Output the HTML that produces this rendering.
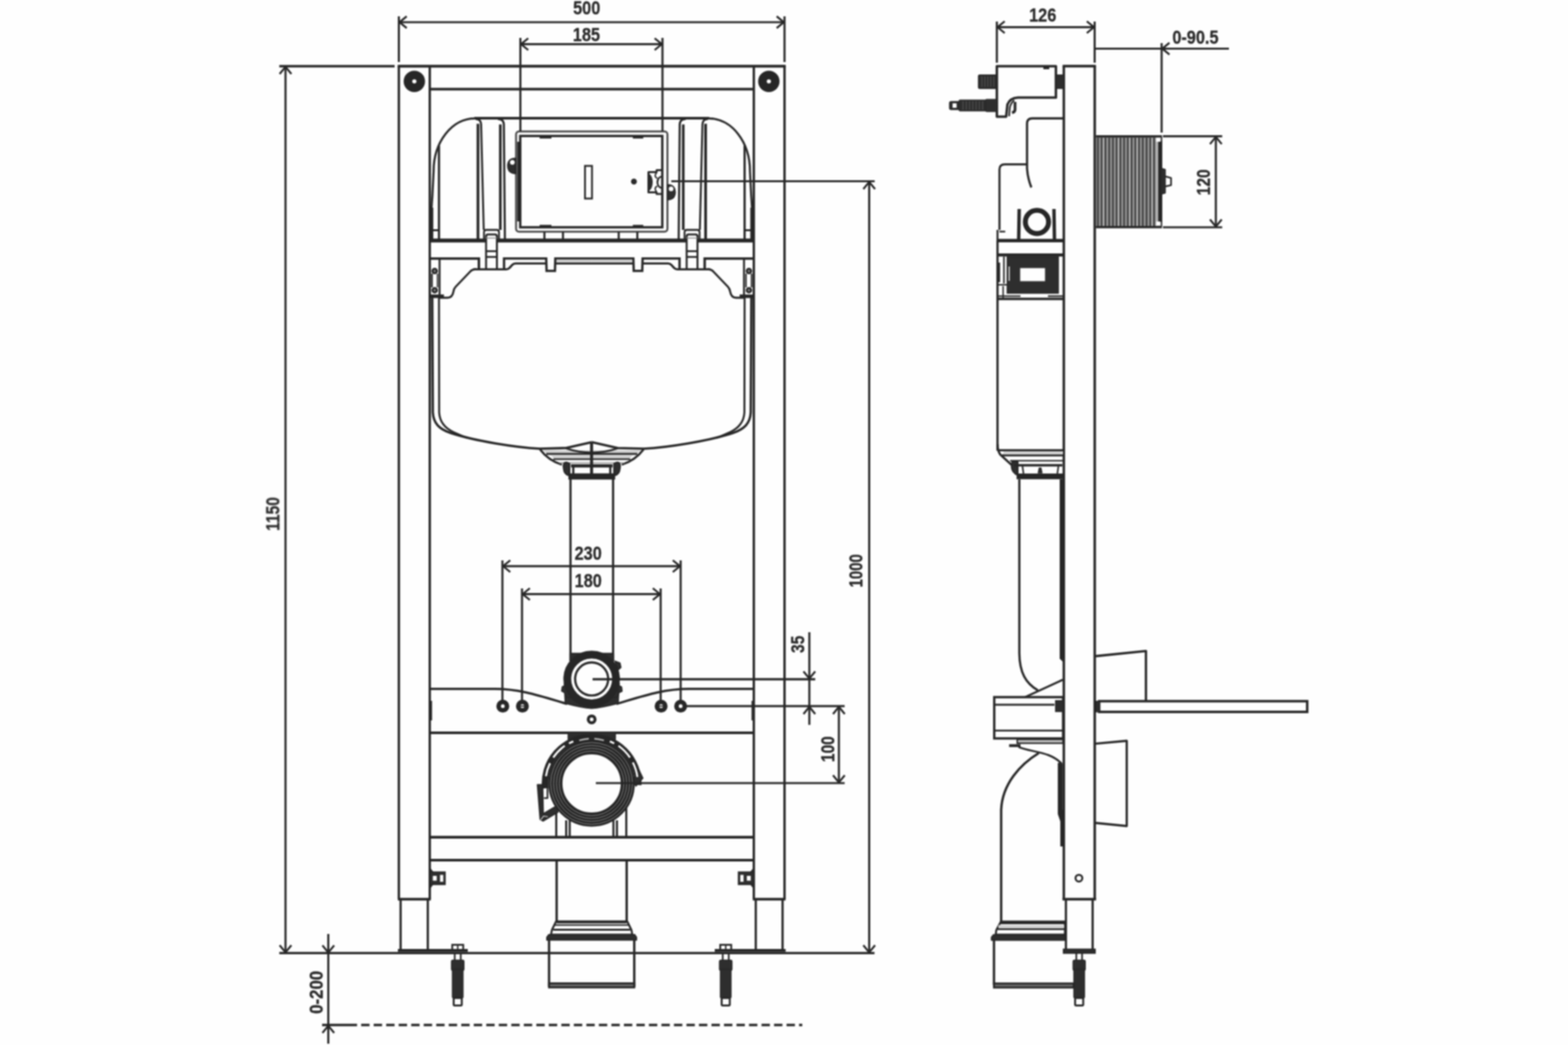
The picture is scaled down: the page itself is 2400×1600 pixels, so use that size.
<!DOCTYPE html>
<html lang="en">
<head>
<meta charset="utf-8">
<title>Installation frame dimensions</title>
<style>
html,body{margin:0;padding:0;background:#fefefe;}
body{width:2400px;height:1600px;overflow:hidden;}
svg{display:block;}
svg *{vector-effect:none;}
.d rect,.d polygon{stroke-linejoin:miter;}
.d{fill:none;stroke:#262626;stroke-width:3.6;stroke-linecap:butt;stroke-linejoin:round;}
.d text{font-family:"Liberation Sans",sans-serif;font-size:28.6px;font-weight:700;fill:#2b2b2b;stroke:#2b2b2b;stroke-width:0.4px;stroke-linejoin:round;text-anchor:middle;}
</style>
</head>
<body>
<svg width="2400" height="1600" viewBox="0 0 2400 1600">
<rect x="0" y="0" width="2400" height="1600" fill="#fefefe"/>
<defs><filter id="soft" x="0" y="0" width="2400" height="1600" filterUnits="userSpaceOnUse" color-interpolation-filters="sRGB"><feGaussianBlur stdDeviation="0.85"/></filter></defs>
<g class="d" filter="url(#soft)">
<!-- front view: frame -->
<line x1="608.7" y1="101.3" x2="1202.6" y2="101.3" stroke-width="4.2"/>
<line x1="610.5" y1="101.3" x2="610.5" y2="1376.8"/>
<line x1="657.8" y1="101.3" x2="657.8" y2="1376.8"/>
<line x1="1153.8" y1="101.3" x2="1153.8" y2="1376.8"/>
<line x1="1200.8" y1="101.3" x2="1200.8" y2="1376.8"/>
<line x1="609.0" y1="1376.8" x2="659.3" y2="1376.8" stroke-width="4.0"/>
<line x1="1152.3" y1="1376.8" x2="1202.3" y2="1376.8" stroke-width="4.0"/>
<line x1="613.2" y1="1376.8" x2="613.2" y2="1455" stroke-width="3.4"/>
<line x1="654.8" y1="1376.8" x2="654.8" y2="1455" stroke-width="3.4"/>
<line x1="1156.8" y1="1376.8" x2="1156.8" y2="1455" stroke-width="3.4"/>
<line x1="1197.8" y1="1376.8" x2="1197.8" y2="1455" stroke-width="3.4"/>
<line x1="609" y1="1455.2" x2="716" y2="1455.2" stroke-width="4.5"/>
<line x1="1094" y1="1455.2" x2="1202.5" y2="1455.2" stroke-width="4.5"/>
<line x1="657.8" y1="136.5" x2="1153.8" y2="136.5" stroke-width="3.8"/>
<circle cx="634.2" cy="124.6" r="9.8" stroke-width="13.2" fill="#fefefe"/>
<circle cx="1176.8" cy="124.6" r="9.8" stroke-width="13.2" fill="#fefefe"/>
<line x1="657.8" y1="1122" x2="1153.8" y2="1122" stroke-width="3.8"/>
<line x1="657.8" y1="1281.9" x2="1153.8" y2="1281.9" stroke-width="4.2"/>
<line x1="657.8" y1="1317" x2="1153.8" y2="1317" stroke-width="3.8"/>
<path d="M657.8,1054.8 L757,1054.8 C797,1054.8 828,1066 868,1077.8 M1153.8,1054.8 L1054.6,1054.8 C1014.6,1054.8 983.6,1066 943.6,1077.8" stroke-width="3.4"/>
<line x1="660" y1="1073" x2="660" y2="1103" stroke-width="2.6"/>
<line x1="1151.6" y1="1073" x2="1151.6" y2="1103" stroke-width="2.6"/>
<!-- front view: cistern upper part -->
<line x1="726" y1="181" x2="1085.6" y2="181" stroke-width="3.8"/>
<path d="M726.5,181.3 A62.8,80.5 0 0 0 663.7,262 L661.8,300 L660,326" stroke-width="3.2"/>
<line x1="671.9" y1="223" x2="671.9" y2="366" stroke-width="3.4"/>
<line x1="660.6" y1="318" x2="660.6" y2="368" stroke-width="5.2"/>
<line x1="662" y1="352.5" x2="672" y2="352.5" stroke-width="3.0"/>
<line x1="731.6" y1="189.5" x2="731.6" y2="366" stroke-width="4.2"/>
<path d="M728,182.2 Q735.8,182.2 736.4,190 L740.4,352" stroke-width="3.0"/>
<line x1="765.8" y1="190.5" x2="765.8" y2="352" stroke-width="4.0"/>
<path d="M762,182.2 Q770.4,182.2 771.2,190 L772.8,366" stroke-width="3.2"/>
<path d="M1085.1,181.3 A62.8,80.5 0 0 1 1147.9,262 L1149.8,300 L1151.6,326" stroke-width="3.2"/>
<line x1="1139.7" y1="223" x2="1139.7" y2="366" stroke-width="3.4"/>
<line x1="1151.0" y1="318" x2="1151.0" y2="368" stroke-width="5.2"/>
<line x1="1149.6" y1="352.5" x2="1139.6" y2="352.5" stroke-width="3.0"/>
<line x1="1080.0" y1="189.5" x2="1080.0" y2="366" stroke-width="4.2"/>
<path d="M1083.6,182.2 Q1075.8,182.2 1075.2,190 L1071.2,352" stroke-width="3.0"/>
<line x1="1045.8" y1="190.5" x2="1045.8" y2="352" stroke-width="4.0"/>
<path d="M1049.6,182.2 Q1041.2,182.2 1040.4,190 L1038.8,366" stroke-width="3.2"/>
<rect x="789.9" y="201.2" width="231.7" height="153.6" stroke-width="3.0" rx="4.5" stroke="#4a4a4a"/>
<rect x="796.3" y="208.2" width="217.4" height="139.8" stroke-width="3.6"/>
<line x1="794.4" y1="217" x2="794.4" y2="339" stroke-width="5.6"/>
<line x1="826" y1="210.4" x2="844" y2="210.4" stroke-width="3.4"/>
<line x1="826" y1="346" x2="844" y2="346" stroke-width="3.4"/>
<line x1="968.6" y1="210.4" x2="984.6" y2="210.4" stroke-width="3.4"/>
<line x1="968.6" y1="346" x2="984.6" y2="346" stroke-width="3.4"/>
<line x1="833.3" y1="355" x2="833.3" y2="367" stroke-width="3.2"/>
<line x1="861.7" y1="355" x2="861.7" y2="367" stroke-width="3.2"/>
<line x1="947" y1="355" x2="947" y2="367" stroke-width="3.2"/>
<line x1="975.5" y1="355" x2="975.5" y2="367" stroke-width="3.2"/>
<path d="M789.5,242.5 C780,242 777,248 777.2,254 C777.3,261 781,265.5 789.5,265.8 Z" stroke-width="2.0" fill="#2e2e2e"/>
<circle cx="784.2" cy="248.6" r="3.6" stroke-width="0" fill="#fefefe" stroke="none"/>
<path d="M1022,283 C1031,282.5 1033.6,289 1033.5,294 C1033.4,301 1030,305.6 1022,305.8 Z" stroke-width="2.0" fill="#2e2e2e"/>
<circle cx="1027.2" cy="289.2" r="3.6" stroke-width="0" fill="#fefefe" stroke="none"/>
<rect x="895.4" y="254" width="10.7" height="50" stroke-width="2.8"/>
<circle cx="970.3" cy="278" r="3.2" stroke-width="2.6" fill="#2e2e2e"/>
<path d="M1013,260.5 L1005,260.5 L1005,263.5 L992.5,263.5 L992.5,294.5 L1005,294.5 L1005,297 L1013,297" stroke-width="3.0"/>
<path d="M993,266 C1000,272 1000,286 993,292 Z" stroke-width="1.5" fill="#2e2e2e"/>
<path d="M1013,270 C1004,272 1004,286 1013,288" stroke-width="2.8"/>
<path d="M1005,264 C1002,268 1002,271 1006,273 M1005,294 C1002,290 1002,287 1006,285" stroke-width="2.2"/>
<!-- front view: cistern mid bar -->
<line x1="658" y1="368.3" x2="1153.6" y2="368.3" stroke-width="6"/>
<rect x="744" y="361" width="16.6" height="50" stroke-width="0" fill="#fefefe" stroke="none"/>
<path d="M740.8,366 L740.8,355.5 Q740.8,352 744.3,352 L760.2,352 Q763.8,352 763.8,355.5 L763.8,366" stroke-width="2.8"/>
<path d="M744,412 L744,362 Q744,359 747,359 L757.6,359 Q760.6,359 760.6,362 L760.6,412" stroke-width="3.0"/>
<line x1="744" y1="364.5" x2="760.6" y2="364.5" stroke-width="1.6" stroke="#8a8a8a"/>
<line x1="744" y1="384.6" x2="760.6" y2="384.6" stroke-width="2.8"/>
<line x1="744" y1="393.4" x2="760.6" y2="393.4" stroke-width="2.8"/>
<rect x="1051.0" y="361" width="16.6" height="50" stroke-width="0" fill="#fefefe" stroke="none"/>
<path d="M1070.8,366 L1070.8,355.5 Q1070.8,352 1067.3,352 L1051.4,352 Q1047.8,352 1047.8,355.5 L1047.8,366" stroke-width="2.8"/>
<path d="M1067.6,412 L1067.6,362 Q1067.6,359 1064.6,359 L1054.0,359 Q1051.0,359 1051.0,362 L1051.0,412" stroke-width="3.0"/>
<line x1="1067.6" y1="364.5" x2="1051.0" y2="364.5" stroke-width="1.6" stroke="#8a8a8a"/>
<line x1="1067.6" y1="384.6" x2="1051.0" y2="384.6" stroke-width="2.8"/>
<line x1="1067.6" y1="393.4" x2="1051.0" y2="393.4" stroke-width="2.8"/>
<polyline points="658,395.8 733,395.8 733,412.4" stroke-width="3.8" stroke-linejoin="miter"/>
<polyline points="771.5,412.4 771.5,395.8 836.0,395.8 836.6,414.8 849.4,414.8 850.0,395.8 906,395.8" stroke-width="3.6" stroke-linejoin="miter"/>
<path d="M724,412.4 L775,412.4 Q778,412.4 780,410 L784,405.6 Q786,403.4 789,403.4 L835.0,403.4" stroke-width="3.4"/>
<line x1="851.0" y1="403.4" x2="906" y2="403.4" stroke-width="3.4"/>
<rect x="852.0" y="397.6" width="53.8" height="4.2" stroke-width="0" fill="#d0d0d0" stroke="none"/>
<path d="M729,412.2 Q723.5,412.2 720,415.5 L697.5,439 Q694.6,442 694,446.5 Q692.5,455.8 685,455.8 L673,455.8" stroke-width="3.2"/>
<line x1="672.8" y1="395.8" x2="672.8" y2="456" stroke-width="3.0"/>
<circle cx="665.3" cy="415" r="3.4" stroke-width="3.0" fill="#777"/>
<circle cx="665.3" cy="444.4" r="3.4" stroke-width="3.0" fill="#777"/>
<line x1="661.2" y1="419" x2="661.2" y2="440" stroke-width="2.4"/>
<line x1="669.6" y1="419" x2="669.6" y2="440" stroke-width="2.0"/>
<line x1="659" y1="453.6" x2="679.5" y2="453.6" stroke-width="5.5"/>
<polyline points="1153.6,395.8 1078.6,395.8 1078.6,412.4" stroke-width="3.8" stroke-linejoin="miter"/>
<polyline points="1040.1,412.4 1040.1,395.8 983.6,395.8 983.0,414.8 970.0,414.8 969.4,395.8 906,395.8" stroke-width="3.6" stroke-linejoin="miter"/>
<path d="M1087.6,412.4 L1036.6,412.4 Q1033.6,412.4 1031.6,410 L1027.6,405.6 Q1025.6,403.4 1022.6,403.4 L984.6,403.4" stroke-width="3.4"/>
<line x1="968.4" y1="403.4" x2="906" y2="403.4" stroke-width="3.4"/>
<rect x="905.8" y="397.6" width="61.6" height="4.2" stroke-width="0" fill="#d0d0d0" stroke="none"/>
<path d="M1082.6,412.2 Q1088.1,412.2 1091.6,415.5 L1114.1,439 Q1117.0,442 1117.6,446.5 Q1119.1,455.8 1126.6,455.8 L1138.6,455.8" stroke-width="3.2"/>
<line x1="1138.8" y1="395.8" x2="1138.8" y2="456" stroke-width="3.0"/>
<circle cx="1146.3" cy="415" r="3.4" stroke-width="3.0" fill="#777"/>
<circle cx="1146.3" cy="444.4" r="3.4" stroke-width="3.0" fill="#777"/>
<line x1="1150.4" y1="419" x2="1150.4" y2="440" stroke-width="2.4"/>
<line x1="1142.0" y1="419" x2="1142.0" y2="440" stroke-width="2.0"/>
<line x1="1152.6" y1="453.6" x2="1132.1" y2="453.6" stroke-width="5.5"/>
<!-- front view: cistern body -->
<path d="M661.6,456 L662.5,631.6 C663.5,648 672,657 690,663 C728,675.5 790,685 826,687 L866,686 L905.8,677" stroke-width="3.6"/>
<path d="M671.9,456 L672.2,631.6 C673,645 680,655 694,661.5 C702,665 708,668 715.3,670.2" stroke-width="3.0"/>
<path d="M1150.0,456 L1149.1,631.6 C1148.1,648 1139.6,657 1121.6,663 C1083.6,675.5 1021.6,685 985.6,687 L945.6,686 L905.8,677" stroke-width="3.6"/>
<path d="M1139.7,456 L1139.4,631.6 C1138.6,645 1131.6,655 1117.6,661.5 C1109.6,665 1103.6,668 1096.3,670.2" stroke-width="3.0"/>
<!-- front view: funnel under cistern -->
<path d="M826.5,688 C834,698 846,707 860,711.5" stroke-width="3.4"/>
<path d="M985.1,688 C977.6,698 965.6,707 951.6,711.5" stroke-width="3.4"/>
<path d="M831,689.5 L980.6,689.5 L975.6,693.5 L836,693.5 Z" stroke-width="0" fill="#cfcfcf" stroke="none"/>
<path d="M843,697.5 L968.6,697.5 L963.6,701.5 L848,701.5 Z" stroke-width="0" fill="#cfcfcf" stroke="none"/>
<path d="M866,686.4 Q905.8,699.6 945.6,686.4" stroke-width="3.0"/>
<line x1="836" y1="695" x2="975.6" y2="695" stroke-width="3.2"/>
<line x1="847" y1="703" x2="964.6" y2="703" stroke-width="2.6"/>
<line x1="856" y1="708.6" x2="955.6" y2="708.6" stroke-width="1.6" stroke="#9a9a9a"/>
<line x1="905.5" y1="677" x2="905.5" y2="728" stroke-width="4.6"/>
<path d="M868,708 C862.5,707 861.5,712 862.5,717 C863,723 865,727 870.5,728 L872,728 L872,710 Z" stroke-width="2.0" fill="#2e2e2e"/>
<line x1="877.5" y1="715" x2="877.5" y2="726" stroke-width="3.4"/>
<path d="M943.6,708 C949.1,707 950.1,712 949.1,717 C948.6,723 946.6,727 941.1,728 L939.6,728 L939.6,710 Z" stroke-width="2.0" fill="#2e2e2e"/>
<line x1="934.1" y1="715" x2="934.1" y2="726" stroke-width="3.4"/>
<line x1="874" y1="713.2" x2="937.6" y2="713.2" stroke-width="5"/>
<line x1="870" y1="729.6" x2="941.6" y2="729.6" stroke-width="9.5"/>
<!-- front view: flush pipe -->
<line x1="873.2" y1="733" x2="873.2" y2="1001" stroke-width="3.4"/>
<line x1="938.4" y1="733" x2="938.4" y2="1001" stroke-width="3.4"/>
<line x1="873.2" y1="1001" x2="938.4" y2="1001" stroke-width="3.0"/>
<!-- front view: flush pipe connector -->
<path d="M865,1077 C880,1081 893,1084 905.6,1084.8 C918,1084 931,1081 946.4,1077 L948,1046 L863.5,1046 Z" stroke-width="1.5" fill="#2e2e2e"/>
<path d="M872,1001 L939.6,1001 L939.6,1012 L872,1012 Z" stroke-width="1.2" fill="#2e2e2e"/>
<path d="M866,1049 L860.5,1051.5 L859.5,1058 L864,1060.5 L868,1068 L874,1068 L874,1047 Z" stroke-width="1.6" fill="#2e2e2e"/>
<path d="M945.6,1049 L951.1,1051.5 L952.1,1058 L947.6,1060.5 L943.6,1068 L937.6,1068 L937.6,1047 Z" stroke-width="1.6" fill="#2e2e2e"/>
<circle cx="905.6" cy="1039.6" r="31.6" stroke-width="0" fill="#fefefe" stroke="none"/>
<circle cx="905.6" cy="1039.6" r="37.3" stroke-width="12.0"/>
<path d="M941,1012 L949,1015 L950.5,1022 L946,1026 Z M946,1049.5 L951.5,1052 L952,1058.5 L946,1061 Z" stroke-width="1.6" fill="#2e2e2e"/>
<circle cx="905.6" cy="1039.6" r="25.3" stroke-width="3.4"/>
<circle cx="769.6" cy="1081.2" r="6.4" stroke-width="7.0"/>
<circle cx="799.6" cy="1081.2" r="6.4" stroke-width="7.0"/>
<circle cx="1011.9" cy="1081.2" r="6.4" stroke-width="7.0"/>
<circle cx="1041.8" cy="1081.2" r="6.4" stroke-width="7.0"/>
<line x1="795.6" y1="1081.2" x2="803.6" y2="1081.2" stroke-width="1.8"/>
<line x1="1007.9" y1="1081.2" x2="1015.9" y2="1081.2" stroke-width="1.8"/>
<circle cx="905.6" cy="1101.4" r="5.2" stroke-width="4.6"/>
<!-- front view: drain connector -->
<line x1="851.4" y1="1237" x2="851.4" y2="1281" stroke-width="3.2"/>
<line x1="866.6" y1="1256" x2="866.6" y2="1281" stroke-width="3.2"/>
<line x1="872" y1="1256" x2="872" y2="1281" stroke-width="3.2"/>
<line x1="938.9" y1="1256" x2="938.9" y2="1281" stroke-width="3.2"/>
<line x1="944.3" y1="1256" x2="944.3" y2="1281" stroke-width="3.2"/>
<line x1="958.6" y1="1237" x2="958.6" y2="1281" stroke-width="3.2"/>
<path d="M869.5,1121 L942,1121 L942,1132 L936,1137 L875.5,1137 L869.5,1132 Z" stroke-width="1.5" fill="#2e2e2e"/>
<path d="M834.6,1207.0 A71.3,71.3 0 1 1 976.8,1202.0" stroke-width="10.2"/>
<path d="M977.5,1178 L984,1191.5 L973.5,1203.5 L968,1196 Z" stroke-width="1.8" fill="#2e2e2e"/>
<path d="M835.6,1188.4 A70.8,70.8 0 0 1 841.9,1168.5" stroke-width="3.0" stroke="#fefefe"/>
<path d="M846.8,1159.9 A70.8,70.8 0 0 1 864.4,1141.9" stroke-width="3.0" stroke="#fefefe"/>
<path d="M946.6,1141.9 A70.8,70.8 0 0 1 964.2,1159.9" stroke-width="3.0" stroke="#fefefe"/>
<path d="M968.6,1167.4 A70.8,70.8 0 0 1 975.6,1189.6" stroke-width="3.0" stroke="#fefefe"/>
<path d="M870.9,1138.3 A70.3,70.3 0 0 1 877.5,1135.0" stroke-width="3.0" stroke="#fefefe"/>
<path d="M933.5,1135.0 A70.3,70.3 0 0 1 940.1,1138.3" stroke-width="3.0" stroke="#fefefe"/>
<path d="M886.6,1133.6 A68.6,68.6 0 0 1 901.3,1131.0" stroke-width="2.4" stroke="#b9b9b9"/>
<path d="M909.7,1131.0 A68.6,68.6 0 0 1 924.4,1133.6" stroke-width="2.4" stroke="#b9b9b9"/>
<circle cx="905.5" cy="1199.5" r="55.4" stroke-width="21.6" fill="#fefefe"/>
<circle cx="905.5" cy="1199.5" r="49.4" stroke-width="1.0" stroke="#8d8d8d"/>
<circle cx="905.5" cy="1199.5" r="53.8" stroke-width="1.0" stroke="#8d8d8d"/>
<circle cx="905.5" cy="1199.5" r="58.2" stroke-width="1.0" stroke="#8d8d8d"/>
<circle cx="905.5" cy="1199.5" r="62.6" stroke-width="1.0" stroke="#8d8d8d"/>
<path d="M822.6,1201.5 L830.6,1201.5 L831.5,1246 L851.5,1234 L854,1243.5 L831.5,1257 L826.8,1254.5 Z" stroke-width="2.0" fill="#2e2e2e"/>
<path d="M836.5,1229 L845.5,1229 L836.8,1237.5 Z" stroke-width="1" fill="#fefefe" stroke="none"/>
<path d="M831,1196 L838,1196 L838,1222 L832.5,1222" stroke-width="2.6"/>
<path d="M827.5,1255.5 L832,1249.5 L838.5,1250.5" stroke-width="1.2" stroke="#fefefe"/>
<!-- front view: drain pipe and outlet -->
<line x1="852" y1="1317" x2="852" y2="1411" stroke-width="3.6"/>
<line x1="959.2" y1="1317" x2="959.2" y2="1411" stroke-width="3.6"/>
<path d="M851,1411 L960.2,1411 L966.5,1424 L967.8,1431 L843.4,1431 L844.7,1424 Z" stroke-width="3.0"/>
<line x1="852" y1="1411.6" x2="959.2" y2="1411.6" stroke-width="4.2"/>
<line x1="849" y1="1416.4" x2="962.2" y2="1416.4" stroke-width="2.2"/>
<line x1="846.5" y1="1423.6" x2="964.7" y2="1423.6" stroke-width="3.0"/>
<path d="M840,1430.8 L971.4,1430.8 L974.4,1435 L974.4,1439.4 L836.8,1439.4 L836.8,1435 Z" stroke-width="1.6" fill="#2e2e2e"/>
<line x1="840.4" y1="1438" x2="840.4" y2="1511" stroke-width="3.6"/>
<line x1="970.8" y1="1438" x2="970.8" y2="1511" stroke-width="3.6"/>
<rect x="840.4" y="1505.6" width="130.4" height="6.2" stroke-width="3.0" fill="#6a6a6a"/>
<!-- front view: anchors and clips -->
<rect x="692.2" y="1446.6" width="16.8" height="9" stroke-width="2.8"/>
<line x1="700.6" y1="1447" x2="700.6" y2="1455" stroke-width="2.2"/>
<line x1="696.0" y1="1459" x2="696.0" y2="1471" stroke-width="2.6"/>
<line x1="705.2" y1="1459" x2="705.2" y2="1471" stroke-width="2.6"/>
<rect x="691.0" y="1470" width="19.2" height="16" stroke-width="1.5" fill="#2e2e2e" rx="2.5"/>
<rect x="692.4" y="1484" width="16.4" height="44" stroke-width="1.5" fill="#2e2e2e" rx="1.5"/>
<rect x="694.4" y="1528" width="12.4" height="11.6" stroke-width="3.0" rx="1.5"/>
<rect x="1102.4" y="1446.6" width="16.8" height="9" stroke-width="2.8"/>
<line x1="1110.8" y1="1447" x2="1110.8" y2="1455" stroke-width="2.2"/>
<line x1="1106.2" y1="1459" x2="1106.2" y2="1471" stroke-width="2.6"/>
<line x1="1115.3999999999999" y1="1459" x2="1115.3999999999999" y2="1471" stroke-width="2.6"/>
<rect x="1101.2" y="1470" width="19.2" height="16" stroke-width="1.5" fill="#2e2e2e" rx="2.5"/>
<rect x="1102.6" y="1484" width="16.4" height="44" stroke-width="1.5" fill="#2e2e2e" rx="1.5"/>
<rect x="1104.6" y="1528" width="12.4" height="11.6" stroke-width="3.0" rx="1.5"/>
<rect x="658" y="1335" width="23.5" height="19.4" stroke-width="1.5" fill="#2e2e2e"/>
<rect x="662.5" y="1341" width="6" height="7.4" stroke-width="0" fill="#fefefe" stroke="none"/>
<rect x="673.5" y="1339.5" width="5" height="10.6" stroke-width="0" fill="#fefefe" stroke="none"/>
<path d="M658,1329.5 L662.5,1335 L658,1335 Z M658,1360 L662.5,1354 L658,1354 Z" stroke-width="1.5" fill="#2e2e2e"/>
<rect x="1130.1" y="1335" width="23.5" height="19.4" stroke-width="1.5" fill="#2e2e2e"/>
<rect x="1143.1" y="1341" width="6" height="7.4" stroke-width="0" fill="#fefefe" stroke="none"/>
<rect x="1133.1" y="1339.5" width="5" height="10.6" stroke-width="0" fill="#fefefe" stroke="none"/>
<path d="M1153.6,1329.5 L1149.1,1335 L1153.6,1335 Z M1153.6,1360 L1149.1,1354 L1153.6,1354 Z" stroke-width="1.5" fill="#2e2e2e"/>
<!-- side view: frame post -->
<line x1="1628.3" y1="101.3" x2="1628.3" y2="1376.8" stroke-width="3.8"/>
<line x1="1675.6" y1="101.3" x2="1675.6" y2="1376.8" stroke-width="3.8"/>
<line x1="1626.5" y1="101.3" x2="1677.3999999999999" y2="101.3" stroke-width="4.0"/>
<line x1="1626.3" y1="1376.8" x2="1677.6" y2="1376.8" stroke-width="4.0"/>
<line x1="1631.5" y1="1378" x2="1631.5" y2="1454" stroke-width="3.4"/>
<line x1="1672.4" y1="1378" x2="1672.4" y2="1454" stroke-width="3.4"/>
<rect x="1628" y="1453.6" width="48" height="5.6" stroke-width="2.4" fill="#2e2e2e"/>
<circle cx="1651.4" cy="1344.6" r="5.2" stroke-width="3.0"/>
<line x1="1647.3999999999999" y1="1460" x2="1647.3999999999999" y2="1471" stroke-width="2.6"/>
<line x1="1656.2" y1="1460" x2="1656.2" y2="1471" stroke-width="2.6"/>
<rect x="1642.4" y="1470" width="18.8" height="16" stroke-width="1.5" fill="#2e2e2e" rx="2.5"/>
<rect x="1643.6" y="1484" width="16.4" height="44" stroke-width="1.5" fill="#2e2e2e" rx="1.5"/>
<rect x="1645.6" y="1528" width="12.4" height="11.6" stroke-width="3.0" rx="1.5"/>
<!-- side view: top bracket -->
<path d="M1525.8,101.3 L1616.2,101.3 L1616.2,149.4 L1558,149.4 Q1546,150 1542,160 L1540,178.6 L1525.8,178.6 Z" stroke-width="3.8"/>
<path d="M1552.5,153.5 Q1546.5,158 1545.5,166 L1544.6,178" stroke-width="2.6"/>
<path d="M1553.6,156 L1553.6,168 Q1553.6,171.5 1549,172.5" stroke-width="4.2"/>
<line x1="1597" y1="104.5" x2="1606" y2="104.5" stroke-width="3.0"/>
<rect x="1497.6" y="114.8" width="28" height="20.6" stroke-width="1.5" fill="#2e2e2e" rx="2"/>
<rect x="1616.5" y="114.8" width="12" height="20.6" stroke-width="1.5" fill="#2e2e2e"/>
<rect x="1453.4" y="155.4" width="16" height="12.4" stroke-width="1.5" fill="#2e2e2e" rx="2.5"/>
<rect x="1468" y="153.2" width="58" height="16.6" stroke-width="1.5" fill="#2e2e2e" rx="1.5"/>
<rect x="1508.6" y="152.2" width="17.4" height="18.6" stroke-width="1.2" fill="#2e2e2e" rx="1.5"/>
<rect x="1458" y="158.2" width="6.2" height="6.8" stroke-width="0" fill="#fefefe" stroke="none"/>
<line x1="1503" y1="117" x2="1503" y2="133" stroke-width="1.0" stroke="#5e5e5e"/>
<line x1="1507.5" y1="117" x2="1507.5" y2="133" stroke-width="1.0" stroke="#5e5e5e"/>
<line x1="1512" y1="117" x2="1512" y2="133" stroke-width="1.0" stroke="#5e5e5e"/>
<line x1="1516.5" y1="117" x2="1516.5" y2="133" stroke-width="1.0" stroke="#5e5e5e"/>
<line x1="1521" y1="117" x2="1521" y2="133" stroke-width="1.0" stroke="#5e5e5e"/>
<line x1="1474" y1="155" x2="1474" y2="168" stroke-width="1.0" stroke="#5e5e5e"/>
<line x1="1479" y1="155" x2="1479" y2="168" stroke-width="1.0" stroke="#5e5e5e"/>
<line x1="1484" y1="155" x2="1484" y2="168" stroke-width="1.0" stroke="#5e5e5e"/>
<line x1="1489" y1="155" x2="1489" y2="168" stroke-width="1.0" stroke="#5e5e5e"/>
<line x1="1494" y1="155" x2="1494" y2="168" stroke-width="1.0" stroke="#5e5e5e"/>
<line x1="1499" y1="155" x2="1499" y2="168" stroke-width="1.0" stroke="#5e5e5e"/>
<line x1="1504" y1="155" x2="1504" y2="168" stroke-width="1.0" stroke="#5e5e5e"/>
<!-- side view: cistern -->
<path d="M1628,181.2 L1580,181.2 Q1572,181.2 1572,189 L1572,258 Q1573,273 1578.6,287" stroke-width="3.4"/>
<path d="M1572,251.6 L1538,251.6 Q1529.8,251.6 1529.8,259.6 L1529.8,352" stroke-width="3.2"/>
<path d="M1529.8,354.6 L1538.6,354.6" stroke-width="2.6"/>
<line x1="1526.8" y1="352" x2="1526.8" y2="368" stroke-width="3.0"/>
<line x1="1560" y1="320" x2="1559.2" y2="368" stroke-width="5.2"/>
<line x1="1613.2" y1="320" x2="1614" y2="368" stroke-width="5.2"/>
<circle cx="1587.2" cy="339.8" r="17.8" stroke-width="7.6" fill="#fefefe"/>
<line x1="1526" y1="368.4" x2="1628" y2="368.4" stroke-width="5.4"/>
<line x1="1526.8" y1="368" x2="1526.8" y2="690" stroke-width="3.4"/>
<line x1="1526" y1="390.4" x2="1628" y2="390.4" stroke-width="4.6"/>
<rect x="1541.5" y="393" width="78.5" height="56" stroke-width="1.5" fill="#2e2e2e"/>
<rect x="1561.5" y="410.5" width="38" height="20" stroke-width="0" fill="#fefefe" stroke="none"/>
<line x1="1528.6" y1="402" x2="1528.6" y2="432" stroke-width="4.4"/>
<line x1="1536.6" y1="393" x2="1536.6" y2="434" stroke-width="2.4"/>
<line x1="1544.6" y1="408" x2="1544.6" y2="430" stroke-width="1.6" stroke="#fefefe"/>
<line x1="1527" y1="436" x2="1541" y2="436" stroke-width="2.2"/>
<line x1="1535.4" y1="438" x2="1535.4" y2="456" stroke-width="2.2"/>
<line x1="1527" y1="453.4" x2="1562" y2="453.4" stroke-width="2.4"/>
<line x1="1566" y1="453.4" x2="1572" y2="453.4" stroke-width="3.4" stroke="#fefefe"/>
<line x1="1596" y1="453.4" x2="1602" y2="453.4" stroke-width="3.4" stroke="#fefefe"/>
<line x1="1604" y1="453.4" x2="1628" y2="453.4" stroke-width="2.4"/>
<line x1="1623.4" y1="393" x2="1623.4" y2="452" stroke-width="1.4" stroke="#fefefe"/>
<line x1="1526" y1="457.6" x2="1628" y2="457.6" stroke-width="3.6"/>
<path d="M1526.8,680 Q1526.8,690 1531,696 L1548.5,712" stroke-width="3.4"/>
<line x1="1528" y1="689.4" x2="1628" y2="689.4" stroke-width="3.2"/>
<line x1="1534" y1="697.2" x2="1628" y2="697.2" stroke-width="3.2"/>
<rect x="1536" y="691" width="91" height="4.6" stroke-width="0" fill="#d4d4d4" stroke="none"/>
<line x1="1546" y1="705.4" x2="1628" y2="705.4" stroke-width="2.4"/>
<path d="M1549,707 Q1546.6,716 1550.5,722 L1555,726.5 L1558,726.5 L1558,707 Z" stroke-width="2.0" fill="#2e2e2e"/>
<line x1="1553" y1="712.4" x2="1626" y2="712.4" stroke-width="3.6"/>
<line x1="1565" y1="714" x2="1566.6" y2="725" stroke-width="2.4"/>
<line x1="1620" y1="714" x2="1618.4" y2="725" stroke-width="2.4"/>
<path d="M1589,724 L1590.6,716.5 L1593.4,716.5 L1595,724 Z" stroke-width="1.4" fill="#2e2e2e"/>
<line x1="1556" y1="729.4" x2="1628" y2="729.4" stroke-width="8.6"/>
<path d="M1560.2,734 L1560.2,1000 C1560.5,1030 1570,1046 1588.6,1057" stroke-width="3.4"/>
<line x1="1625.2" y1="734" x2="1625.2" y2="1008" stroke-width="6.4"/>
<path d="M1622,1008 L1628,1014 L1628,1008 Z" stroke-width="1" fill="#2e2e2e"/>
<line x1="1569" y1="1067.4" x2="1627" y2="1040.6" stroke-width="3.2"/>
<!-- side view: bowl support -->
<rect x="1521.8" y="1067.4" width="105.4" height="63.2" stroke-width="3.6"/>
<line x1="1523" y1="1079" x2="1614" y2="1079" stroke-width="2.8"/>
<line x1="1523" y1="1118.6" x2="1627" y2="1118.6" stroke-width="2.8"/>
<rect x="1615.5" y="1072.6" width="12" height="17" stroke-width="1.2" fill="#2e2e2e"/>
<rect x="1557" y="1132" width="70" height="6" stroke-width="2.2" fill="#bdbdbd"/>
<line x1="1544.6" y1="1141.6" x2="1562" y2="1141.6" stroke-width="4.4"/>
<path d="M1559,1143.6 C1578,1152 1608,1150 1625.6,1170" stroke-width="3.0"/>
<path d="M1590,1153 C1562,1170 1534,1200 1532.4,1240 L1532.4,1411" stroke-width="3.6"/>
<path d="M1621.2,1168 L1621.2,1246 L1626,1260 L1627,1292" stroke-width="4.2"/>
<line x1="1625.4" y1="1240" x2="1625.4" y2="1296" stroke-width="5"/>
<line x1="1624.4" y1="1170" x2="1624.4" y2="1244" stroke-width="4.4"/>
<path d="M1532,1411 L1630,1411 L1630,1431 L1524,1431 L1525,1424 Z" stroke-width="3.0"/>
<line x1="1531" y1="1412.4" x2="1630" y2="1412.4" stroke-width="5"/>
<rect x="1528" y="1416.4" width="101" height="4" stroke-width="0" fill="#cfcfcf" stroke="none"/>
<line x1="1527" y1="1422.6" x2="1630" y2="1422.6" stroke-width="2.6"/>
<path d="M1520.6,1431 L1630,1431 L1630,1439.6 L1517.4,1439.6 L1517.4,1435 Z" stroke-width="1.6" fill="#2e2e2e"/>
<line x1="1521.4" y1="1438" x2="1521.4" y2="1508" stroke-width="3.6"/>
<rect x="1521.4" y="1505.8" width="122" height="6.2" stroke-width="3.0" fill="#6a6a6a"/>
<!-- side view: wall side parts -->
<rect x="1677.4" y="208.6" width="100.4" height="139.4" stroke-width="0" fill="#787878" stroke="none"/>
<line x1="1680.6" y1="211" x2="1680.6" y2="346" stroke-width="1.7" stroke="#303030"/>
<line x1="1683.3" y1="211" x2="1683.3" y2="346" stroke-width="1.4" stroke="#a4a4a4"/>
<line x1="1686.3" y1="211" x2="1686.3" y2="346" stroke-width="1.7" stroke="#303030"/>
<line x1="1689.0" y1="211" x2="1689.0" y2="346" stroke-width="1.4" stroke="#d6d6d6"/>
<line x1="1692.0" y1="211" x2="1692.0" y2="346" stroke-width="1.7" stroke="#303030"/>
<line x1="1694.7" y1="211" x2="1694.7" y2="346" stroke-width="1.4" stroke="#a4a4a4"/>
<line x1="1697.8" y1="211" x2="1697.8" y2="346" stroke-width="1.7" stroke="#303030"/>
<line x1="1700.5" y1="211" x2="1700.5" y2="346" stroke-width="1.4" stroke="#a4a4a4"/>
<line x1="1703.5" y1="211" x2="1703.5" y2="346" stroke-width="1.7" stroke="#303030"/>
<line x1="1706.2" y1="211" x2="1706.2" y2="346" stroke-width="1.4" stroke="#a4a4a4"/>
<line x1="1709.2" y1="211" x2="1709.2" y2="346" stroke-width="1.7" stroke="#303030"/>
<line x1="1711.9" y1="211" x2="1711.9" y2="346" stroke-width="1.4" stroke="#d6d6d6"/>
<line x1="1714.9" y1="211" x2="1714.9" y2="346" stroke-width="1.7" stroke="#303030"/>
<line x1="1717.6" y1="211" x2="1717.6" y2="346" stroke-width="1.4" stroke="#a4a4a4"/>
<line x1="1720.6" y1="211" x2="1720.6" y2="346" stroke-width="1.7" stroke="#303030"/>
<line x1="1723.3" y1="211" x2="1723.3" y2="346" stroke-width="1.4" stroke="#a4a4a4"/>
<line x1="1726.4" y1="211" x2="1726.4" y2="346" stroke-width="1.7" stroke="#303030"/>
<line x1="1729.1" y1="211" x2="1729.1" y2="346" stroke-width="1.4" stroke="#d6d6d6"/>
<line x1="1732.1" y1="211" x2="1732.1" y2="346" stroke-width="1.7" stroke="#303030"/>
<line x1="1734.8" y1="211" x2="1734.8" y2="346" stroke-width="1.4" stroke="#a4a4a4"/>
<line x1="1737.8" y1="211" x2="1737.8" y2="346" stroke-width="1.7" stroke="#303030"/>
<line x1="1740.5" y1="211" x2="1740.5" y2="346" stroke-width="1.4" stroke="#d6d6d6"/>
<line x1="1743.5" y1="211" x2="1743.5" y2="346" stroke-width="1.7" stroke="#303030"/>
<line x1="1746.2" y1="211" x2="1746.2" y2="346" stroke-width="1.4" stroke="#a4a4a4"/>
<line x1="1749.2" y1="211" x2="1749.2" y2="346" stroke-width="1.7" stroke="#303030"/>
<line x1="1751.9" y1="211" x2="1751.9" y2="346" stroke-width="1.4" stroke="#a4a4a4"/>
<line x1="1755.0" y1="211" x2="1755.0" y2="346" stroke-width="1.7" stroke="#303030"/>
<line x1="1757.7" y1="211" x2="1757.7" y2="346" stroke-width="1.4" stroke="#a4a4a4"/>
<line x1="1760.7" y1="211" x2="1760.7" y2="346" stroke-width="1.7" stroke="#303030"/>
<line x1="1763.4" y1="211" x2="1763.4" y2="346" stroke-width="1.4" stroke="#d6d6d6"/>
<line x1="1766.4" y1="211" x2="1766.4" y2="346" stroke-width="1.7" stroke="#303030"/>
<line x1="1769.1" y1="211" x2="1769.1" y2="346" stroke-width="1.4" stroke="#a4a4a4"/>
<line x1="1677.4" y1="208.8" x2="1778.6" y2="208.8" stroke-width="3.4"/>
<line x1="1677.4" y1="347.8" x2="1778.6" y2="347.8" stroke-width="3.4"/>
<rect x="1769.4" y="211" width="3.4" height="134.6" stroke-width="0" fill="#b9b9b9" stroke="none"/>
<line x1="1775.6" y1="216" x2="1775.6" y2="340" stroke-width="5.6"/>
<line x1="1778.2" y1="210" x2="1778.2" y2="346" stroke-width="1.6"/>
<rect x="1769.6" y="210.8" width="6.6" height="6.2" stroke-width="0" fill="#fefefe" stroke="none"/>
<rect x="1769.6" y="339.2" width="6.6" height="6.2" stroke-width="0" fill="#fefefe" stroke="none"/>
<path d="M1777,257.4 L1783.6,259.4 L1783.6,295.4 L1777,297.4 Z" stroke-width="1.6" fill="#2e2e2e"/>
<path d="M1783.4,270 L1792.4,272.6 L1792.4,283.4 L1783.4,285.6" stroke-width="2.6"/>
<path d="M1677,1004.6 L1754,996.8 L1754,1073.6" stroke-width="3.6"/>
<rect x="1682.4" y="1073.6" width="318.4" height="16.4" stroke-width="3.8"/>
<rect x="1677.4" y="1073.6" width="6" height="16.4" stroke-width="1.2" fill="#2e2e2e"/>
<path d="M1677,1138.6 L1724.6,1134.2 L1724.6,1264.8 L1677,1260" stroke-width="3.4"/>
<!-- dimensions -->
<line x1="610.5" y1="34" x2="1200.8" y2="34" stroke-width="3.2"/>
<line x1="610.5" y1="25" x2="610.5" y2="95" stroke-width="3.2"/>
<line x1="1200.8" y1="25" x2="1200.8" y2="95" stroke-width="3.2"/>
<polyline points="622.5,25 611.5,34 622.5,43" stroke-width="3.0" stroke-linejoin="miter"/>
<polyline points="1188.8,25 1199.8,34 1188.8,43" stroke-width="3.0" stroke-linejoin="miter"/>
<text x="0" y="0" transform="translate(898 22.1) scale(0.872 1)">500</text>
<line x1="796.5" y1="67.6" x2="1014" y2="67.6" stroke-width="3.2"/>
<line x1="796.5" y1="58" x2="796.5" y2="201" stroke-width="3.2"/>
<line x1="1014" y1="58" x2="1014" y2="201" stroke-width="3.2"/>
<polyline points="808.5,58.6 797.5,67.6 808.5,76.6" stroke-width="3.0" stroke-linejoin="miter"/>
<polyline points="1002,58.6 1013,67.6 1002,76.6" stroke-width="3.0" stroke-linejoin="miter"/>
<text x="0" y="0" transform="translate(897.6 62.5) scale(0.872 1)">185</text>
<line x1="427.5" y1="101.3" x2="604" y2="101.3" stroke-width="3.8"/>
<line x1="437" y1="101.3" x2="437" y2="1459.2" stroke-width="3.2"/>
<polyline points="428,113.3 437,102.3 446,113.3" stroke-width="3.0" stroke-linejoin="miter"/>
<polyline points="428,1447.2 437,1458.2 446,1447.2" stroke-width="3.0" stroke-linejoin="miter"/>
<text x="0" y="0" transform="translate(427.5 787) rotate(-90) scale(0.832 1)">1150</text>
<line x1="427.5" y1="1459.2" x2="1338.5" y2="1459.2" stroke-width="3.6"/>
<line x1="502.5" y1="1430" x2="502.5" y2="1598" stroke-width="3.2"/>
<polyline points="493.5,1447.5 502.5,1458.5 511.5,1447.5" stroke-width="3.0" stroke-linejoin="miter"/>
<polyline points="493.5,1581.5 502.5,1570.5 511.5,1581.5" stroke-width="3.0" stroke-linejoin="miter"/>
<line x1="493" y1="1569.4" x2="546.5" y2="1569.4" stroke-width="3.6"/>
<line x1="552.8" y1="1569.4" x2="1228" y2="1569.4" stroke-width="3.6" stroke-dasharray="12.8 6.35"/>
<text x="0" y="0" transform="translate(494.2 1519.4) rotate(-90) scale(0.9 1)">0-200</text>
<line x1="1027.5" y1="277.5" x2="1338.8" y2="277.5" stroke-width="3.2"/>
<line x1="1330.4" y1="277.5" x2="1330.4" y2="1459.2" stroke-width="3.2"/>
<polyline points="1321.4,289.5 1330.4,278.5 1339.4,289.5" stroke-width="3.0" stroke-linejoin="miter"/>
<polyline points="1321.4,1447.2 1330.4,1458.2 1339.4,1447.2" stroke-width="3.0" stroke-linejoin="miter"/>
<text x="0" y="0" transform="translate(1320.4 874.0) rotate(-90) scale(0.805 1)">1000</text>
<line x1="769" y1="866.8" x2="1041.8" y2="866.8" stroke-width="3.2"/>
<line x1="769" y1="858" x2="769" y2="1072" stroke-width="3.2"/>
<line x1="1041.8" y1="858" x2="1041.8" y2="1072" stroke-width="3.2"/>
<polyline points="781,857.8 770,866.8 781,875.8" stroke-width="3.0" stroke-linejoin="miter"/>
<polyline points="1029.8,857.8 1040.8,866.8 1029.8,875.8" stroke-width="3.0" stroke-linejoin="miter"/>
<text x="0" y="0" transform="translate(900.3 856.5) scale(0.872 1)">230</text>
<line x1="799" y1="909.7" x2="1011.2" y2="909.7" stroke-width="3.2"/>
<line x1="799" y1="901" x2="799" y2="1072" stroke-width="3.2"/>
<line x1="1011.2" y1="901" x2="1011.2" y2="1072" stroke-width="3.2"/>
<polyline points="811,900.7 800,909.7 811,918.7" stroke-width="3.0" stroke-linejoin="miter"/>
<polyline points="999.2,900.7 1010.2,909.7 999.2,918.7" stroke-width="3.0" stroke-linejoin="miter"/>
<text x="0" y="0" transform="translate(900.4 898.5) scale(0.872 1)">180</text>
<line x1="907" y1="1040" x2="1247.8" y2="1040" stroke-width="3.6"/>
<line x1="1051" y1="1081.2" x2="1292.8" y2="1081.2" stroke-width="3.2"/>
<line x1="912" y1="1199" x2="1292.8" y2="1199" stroke-width="3.2"/>
<line x1="1238.8" y1="968" x2="1238.8" y2="1109.8" stroke-width="3.2"/>
<polyline points="1229.8,1028 1238.8,1039 1247.8,1028" stroke-width="3.0" stroke-linejoin="miter"/>
<polyline points="1229.8,1093.2 1238.8,1082.2 1247.8,1093.2" stroke-width="3.0" stroke-linejoin="miter"/>
<line x1="1284" y1="1081.2" x2="1284" y2="1199" stroke-width="3.2"/>
<polyline points="1275,1093.2 1284,1082.2 1293,1093.2" stroke-width="3.0" stroke-linejoin="miter"/>
<polyline points="1275,1187 1284,1198 1293,1187" stroke-width="3.0" stroke-linejoin="miter"/>
<text x="0" y="0" transform="translate(1230.5 986.5) rotate(-90) scale(0.832 1)">35</text>
<text x="0" y="0" transform="translate(1276.6 1147) rotate(-90) scale(0.832 1)">100</text>
<line x1="1525.8" y1="41.6" x2="1675.5" y2="41.6" stroke-width="3.2"/>
<line x1="1525.8" y1="33" x2="1525.8" y2="96" stroke-width="3.2"/>
<line x1="1675.5" y1="33" x2="1675.5" y2="96" stroke-width="3.2"/>
<polyline points="1537.8,32.6 1526.8,41.6 1537.8,50.6" stroke-width="3.0" stroke-linejoin="miter"/>
<polyline points="1663.5,32.6 1674.5,41.6 1663.5,50.6" stroke-width="3.0" stroke-linejoin="miter"/>
<text x="0" y="0" transform="translate(1596 33.2) scale(0.872 1)">126</text>
<line x1="1677" y1="74.5" x2="1881" y2="74.5" stroke-width="3.2"/>
<line x1="1778" y1="66" x2="1778" y2="203" stroke-width="3.2"/>
<polyline points="1790,65.5 1779,74.5 1790,83.5" stroke-width="3.0" stroke-linejoin="miter"/>
<text x="0" y="0" transform="translate(1829.7 67.4) scale(0.871 1)">0-90.5</text>
<line x1="1780" y1="208.6" x2="1870.7" y2="208.6" stroke-width="3.2"/>
<line x1="1780" y1="348" x2="1870.7" y2="348" stroke-width="3.2"/>
<line x1="1861" y1="208.6" x2="1861" y2="348" stroke-width="3.2"/>
<polyline points="1852,220.6 1861,209.6 1870,220.6" stroke-width="3.0" stroke-linejoin="miter"/>
<polyline points="1852,336 1861,347 1870,336" stroke-width="3.0" stroke-linejoin="miter"/>
<text x="0" y="0" transform="translate(1852 279.2) rotate(-90) scale(0.832 1)">120</text>
</g>
</svg>
</body>
</html>
